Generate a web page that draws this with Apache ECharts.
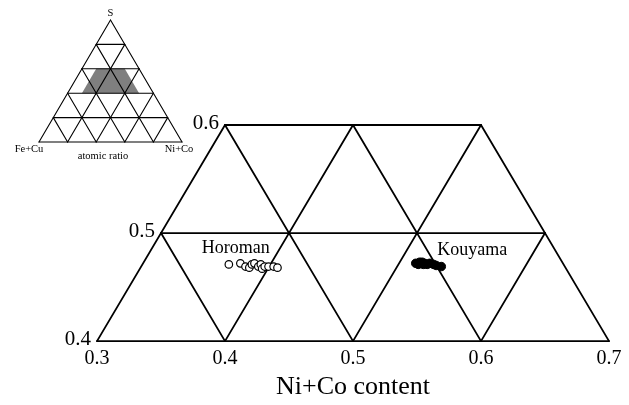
<!DOCTYPE html>
<html>
<head>
<meta charset="utf-8">
<script src="https://cdn.jsdelivr.net/npm/echarts@6/dist/echarts.min.js"></script>
<style>
  html, body { margin: 0; padding: 0; background: #fff; }
  #chart { width: 629px; height: 405px; }
</style>
</head>
<body>
<div id="chart"></div>
<script>
// Horizontal position (Ni+Co) ticks along the base of the S = 0.4–0.6 section
const xTicks = [0.3, 0.4, 0.5, 0.6, 0.7];
// S content levels of the section
const sTicks = [0.4, 0.5, 0.6];
// Subdivision ticks of the full S–(Fe+Cu)–(Ni+Co) triangle in the inset
const insetTicks = [0, 0.2, 0.4, 0.6, 0.8, 1.0];

// Horoman samples [Ni+Co position, S]
const horoman = [
  [0.403, 0.471], [0.412, 0.472], [0.416, 0.469], [0.419, 0.468],
  [0.421, 0.471], [0.423, 0.472], [0.426, 0.469], [0.428, 0.471],
  [0.429, 0.467], [0.431, 0.469], [0.434, 0.469], [0.438, 0.469],
  [0.441, 0.468]
];
// Kouyama samples [Ni+Co position, S]
const kouyama = [
  [0.549, 0.472], [0.552, 0.473], [0.554, 0.473], [0.556, 0.472],
  [0.551, 0.471], [0.555, 0.471], [0.558, 0.471], [0.560, 0.472],
  [0.563, 0.471], [0.565, 0.470], [0.569, 0.469]
];

const SERIF = "'Liberation Serif', 'Times New Roman', serif";

// Triangular lattice clipped to the band sMin..sMax; the horizontal
// coordinate shifts by half the S step per level (equilateral grid).
function lattice(ticks, sLevels) {
  const xMin = ticks[0], xMax = ticks[ticks.length - 1];
  const sMin = sLevels[0], sMax = sLevels[sLevels.length - 1];
  const segs = [];
  sLevels.forEach(function (s) {
    const a = xMin + (s - sMin) / 2, b = xMax - (s - sMin) / 2;
    if (b - a > 1e-9) segs.push([a, s, b, s]);
  });
  ticks.forEach(function (x0, i) {
    if (i < ticks.length - 1) {           // rising to the right
      const sEnd = Math.min(sMax, sMin + (xMax - x0));
      segs.push([x0, sMin, x0 + (sEnd - sMin) / 2, sEnd]);
    }
    if (i > 0) {                           // rising to the left
      const sEnd = Math.min(sMax, sMin + (x0 - xMin));
      segs.push([x0, sMin, x0 - (sEnd - sMin) / 2, sEnd]);
    }
  });
  return segs;
}

function segRenderer(width) {
  return function (params, api) {
    const p1 = api.coord([api.value(0), api.value(1)]);
    const p2 = api.coord([api.value(2), api.value(3)]);
    return {
      type: 'line',
      shape: { x1: p1[0], y1: p1[1], x2: p2[0], y2: p2[1] },
      style: { stroke: '#000', lineWidth: width, lineCap: 'round' }
    };
  };
}

const mainSegs = lattice(xTicks, sTicks);
const insetSegs = lattice(insetTicks, insetTicks);

// Section outline shown shaded in the inset
const xLo = xTicks[0], xHi = xTicks[xTicks.length - 1];
const sLo = sTicks[0], sHi = sTicks[sTicks.length - 1];
const sectionPoly = [
  [xLo, sLo], [xHi, sLo],
  [xHi - (sHi - sLo) / 2, sHi], [xLo + (sHi - sLo) / 2, sHi]
];

// Left-edge vertices carry the S tick labels
const sLabelPts = sTicks.map(function (s) { return [xLo + (s - sLo) / 2, s]; });

const insetCorners = [
  { value: [0.5, 1], name: 'S', label: { position: 'top', distance: 1 } },
  { value: [0, 0], name: 'Fe+Cu', label: { position: 'inside', offset: [-10, 7] } },
  { value: [1, 0], name: 'Ni+Co', label: { position: 'inside', offset: [-3, 7] } }
];

const plainText = { color: '#000', fontFamily: SERIF, textBorderWidth: 0, textShadowBlur: 0 };

function samplePoints(arr, labelIdx, text, offset) {
  return arr.map(function (p, i) {
    if (i !== labelIdx) return { value: p };
    return {
      value: p,
      label: Object.assign({
        show: true, formatter: text, position: 'inside', offset: offset, fontSize: 18
      }, plainText)
    };
  });
}

const chart = echarts.init(document.getElementById('chart'), null, { renderer: 'canvas' });
chart.setOption({
  backgroundColor: '#fff',
  animation: false,
  grid: [
    { left: 97, top: 125, width: 512, height: 221 },
    { left: 39, top: 20, width: 143, height: 122 }
  ],
  xAxis: [
    {
      type: 'value', gridIndex: 0, min: 0.3, max: 0.7, interval: 0.1,
      axisLine: { show: false }, axisTick: { show: false }, splitLine: { show: false },
      axisLabel: {
        color: '#000', fontFamily: SERIF, fontSize: 20, margin: 8,
        formatter: function (v) { return v.toFixed(1); }
      },
      name: 'Ni+Co content', nameLocation: 'middle', nameGap: 26,
      nameTextStyle: { color: '#000', fontFamily: SERIF, fontSize: 26 }
    },
    {
      type: 'value', gridIndex: 1, min: 0, max: 1,
      axisLine: { show: false }, axisTick: { show: false }, splitLine: { show: false },
      axisLabel: { show: false },
      name: 'atomic ratio', nameLocation: 'middle', nameGap: 9,
      nameTextStyle: { color: '#000', fontFamily: SERIF, fontSize: 10.5, padding: [0, 15, 0, 0] }
    }
  ],
  yAxis: [
    { type: 'value', gridIndex: 0, min: 0.4, max: 0.6, interval: 0.1, show: false },
    { type: 'value', gridIndex: 1, min: 0, max: 1, show: false }
  ],
  series: [
    {
      type: 'custom', xAxisIndex: 1, yAxisIndex: 1, clip: false, silent: true, z: 1,
      data: [0],
      renderItem: function (params, api) {
        return {
          type: 'polygon',
          shape: { points: sectionPoly.map(function (p) { return api.coord(p); }) },
          style: { fill: '#7f7f7f' }
        };
      }
    },
    {
      type: 'custom', xAxisIndex: 1, yAxisIndex: 1, clip: false, silent: true, z: 2,
      encode: { x: [0, 2], y: [1, 3] },
      data: insetSegs, renderItem: segRenderer(1.1)
    },
    {
      type: 'scatter', xAxisIndex: 1, yAxisIndex: 1, symbolSize: 0, silent: true,
      itemStyle: { opacity: 1 },
      data: insetCorners,
      label: Object.assign({ show: true, formatter: '{b}', fontSize: 10.5 }, plainText)
    },
    {
      type: 'custom', xAxisIndex: 0, yAxisIndex: 0, clip: false, silent: true, z: 2,
      encode: { x: [0, 2], y: [1, 3] },
      data: mainSegs, renderItem: segRenderer(1.8)
    },
    {
      type: 'scatter', xAxisIndex: 0, yAxisIndex: 0, symbolSize: 0, silent: true,
      itemStyle: { opacity: 1 },
      data: sLabelPts,
      label: Object.assign({
        show: true, position: 'left', distance: 6, offset: [0, -2], fontSize: 21,
        formatter: function (p) { return p.value[1].toFixed(1); }
      }, plainText)
    },
    {
      name: 'Horoman', type: 'scatter', xAxisIndex: 0, yAxisIndex: 0, z: 5,
      symbol: 'circle', symbolSize: 7.5,
      itemStyle: { color: '#fff', borderColor: '#000', borderWidth: 1.2, opacity: 1 },
      data: samplePoints(horoman, 0, 'Horoman', [7, -16])
    },
    {
      name: 'Kouyama', type: 'scatter', xAxisIndex: 0, yAxisIndex: 0, z: 5,
      symbol: 'circle', symbolSize: 8.5,
      itemStyle: { color: '#000', borderColor: '#000', borderWidth: 1, opacity: 1 },
      data: samplePoints(kouyama, kouyama.length - 1, 'Kouyama', [31, -16])
    }
  ]
});
</script>
</body>
</html>
